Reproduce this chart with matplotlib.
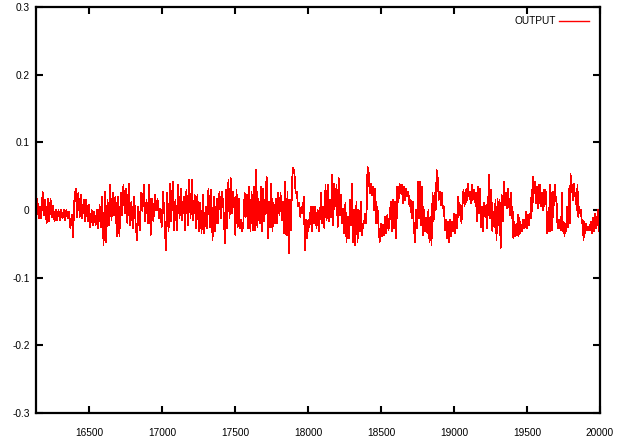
import numpy as np
import matplotlib
matplotlib.use("Agg")
import matplotlib.pyplot as plt

# Signal samples in thousandths, one list per stretch of x
seg1 = [-30, 17, -12, 5, -12, 27, -7, 15, -20, 16, -17, 16, -10, 6, -17, 0, -15, 0, -15, 0,
        -12, 0, -15, 0, -12, -2, -27, -7, -40, 17, 32, -10, 25, -10, 22, -12, 15, -17, 15, -17,
        7, -25, 0, -22, -2, -22, 0, -27, 7, -25, 20, -52, 27, -47, 15, -22, 37, -15, 25, -7,
        20, -39, 20, -39, 25, -7, 37, -5, 32, -20, 39]
seg2 = [-22, 12, -27, 20, -17, -44, 5, -30, 25, -2, 37, -17, 15, -20, 37, -37, 17, -17, 22, 0,
        17, -12, 2, -25, 27, -7, -59, 25, -32, 39, -17, 42, -30, 15, -30, 37, -12, 32, -15, 20,
        -30, 30, -22, 44, -12, 45, -15, 22, -27, 22, -32, 10, -34, 22, -34, 5, -27, 32, -25, 30,
        -44, 20, -32, 17, -20, 27, -12, 27, 0]
seg3 = [-49, 30, -27, 44, -12, 47, -5, 27, 10, -37, 30, -25, 17, -27, -15, -32, -17, 25, -10, 22,
        -27, 34, -32, 27, -30, 34, -30, 59, -25, 17, -20, 34, -32, 32, -17, 20, 49, -42, 12, -25,
        39, -32, 10, -20, 17, -20, 25, -7, 25, -15, 12, -34, 42, -37, 27, -64, 15, -30, 47, 62,
        54, 25, 27, 5, 10, -10, 5, -5, 20, -59, -15, -42, -15, -25, 5, -32, 5, -20, 5, -27,
        0, -32]
seg4 = [-7, 25, -20, 5, -27, 37, -15, 37, -17, 15, -10, 52, -22, 39, 5, 37, -25, 47, -7, 22,
        -20, 2, -34, 10, -47, -10, -42, 15, -22, 39, -47, 0, -52, 12, -47, 0, -32, 12, -37, -22,
        -17, -5, -20, 64, 57, 25, 39, 22, 34, 0, 32, -20, 5, -25, -47, -20, -39, -22, -37, -10,
        -34, -7, -30, -12, 12, -32, 15, -27, 12, -42, 34, 12, 39, 25, 37, 10, 34, 15, 32, 20,
        27, 5, 15, -12, 12, -27]
seg5 = [-47, 0, -27, 42, -12, 42, -22, 34, -37, 0, -32, -12, -34, 0, -47, -10, -52, 25, -17, 25,
        0, 59, 47, 15, 27, 7, 25, 2, 5, -30, -15, -42, -17, -47, -15, -39, -17, -32, -5, -34,
        -7, -27, 20, -7, 7, -20, 10, 30, 5, 30, 12, 39, 20, 27, 10, 37, 15, 30, 12, 25,
        -17, 34, -5, 32, -25, 5, -32, 10, -10, 7, -27, 17, 52, -12, 30, -32, -2, -25, 15, -44,
        17, -22, 15, -57, 22, -17, 42, 7, 25, 2, 32, 12]
seg6 = [-7, 25, -12, 5, -42, -17, -39, -22, -37, -7, -39, -12, -34, -22, -32, -15, -27, -15, -25, -2,
        -27, -7, -22, -5, -12, 30, -2, 49, 25, 42, 10, 34, 2, 37, 10, 37, 5, 25, 0, 30,
        5, 30, 20, -34, -5, -32, 37, -32, 25, -30, 27, 7, 37, 15, 10, -27, -15, -27, -15, -30,
        25, -32, -17, -39, -20, -32, 5, -25, 32, -20, 54, 27, 37, 15, 39, 20, 25, 0, 37, -10,
        5, -5, 0, -20, -15, -44, -17, -34, -20, -30, -25, -30, -22, -30, -17, -34, -12, -32, -5, -27,
        -10, -22, 0, -32, -2]
# x (data units) where each stretch starts/ends
seg_bounds = [16137, 16781, 17431, 18082, 18733, 19383, 20000]

x_start, x_end = 16137, 20000
y_ticks = [-0.3, -0.2, -0.1, 0, 0.1, 0.2, 0.3]
y_tick_labels = ["-0.3", "-0.2", "-0.1", "0", "0.1", "0.2", "0.3"]
x_ticks = [16500, 17000, 17500, 18000, 18500, 19000, 19500, 20000]
x_tick_labels = [str(t) for t in x_ticks]
series_label = "OUTPUT"

segs = [seg1, seg2, seg3, seg4, seg5, seg6]
xs, ys = [], []
for i, s in enumerate(segs):
    last = (i == len(segs) - 1)
    xs.append(np.linspace(seg_bounds[i], seg_bounds[i + 1], len(s), endpoint=last))
    ys.append(np.array(s, dtype=float) / 1000.0)
x = np.concatenate(xs)
y = np.concatenate(ys)

plt.rcParams['font.family'] = ['Liberation Sans', 'DejaVu Sans']
fig = plt.figure(figsize=(6.21, 4.42), dpi=100)
ax = fig.add_axes([36/621, 1 - 413/442, (600-36)/621, (413-7)/442])

ax.plot(x, y, color='#ff0000', lw=0.5, antialiased=False, label=series_label)
ax.set_xlim(x_start, x_end)
ax.set_ylim(-0.3, 0.3)
ax.set_xticks(x_ticks)
ax.set_xticklabels(x_tick_labels)
ax.set_yticks(y_ticks)
ax.set_yticklabels(y_tick_labels)
ax.tick_params(direction='in', length=5, width=1.5, labelsize=7.3, top=True, right=True,
               colors='black')
ax.tick_params(axis='y', pad=4.5)
ax.tick_params(axis='x', pad=10.5)
for s in ax.spines.values():
    s.set_linewidth(1.6)
    s.set_color('black')

leg = ax.legend(loc='upper right', frameon=False, markerfirst=False, fontsize=7.3,
                handlelength=3.0, handletextpad=0.3, borderaxespad=0.5,
                bbox_to_anchor=(0.997, 1.0))
for h in leg.get_lines():
    h.set_linewidth(1.0)

fig.savefig("out.png", dpi=100)
